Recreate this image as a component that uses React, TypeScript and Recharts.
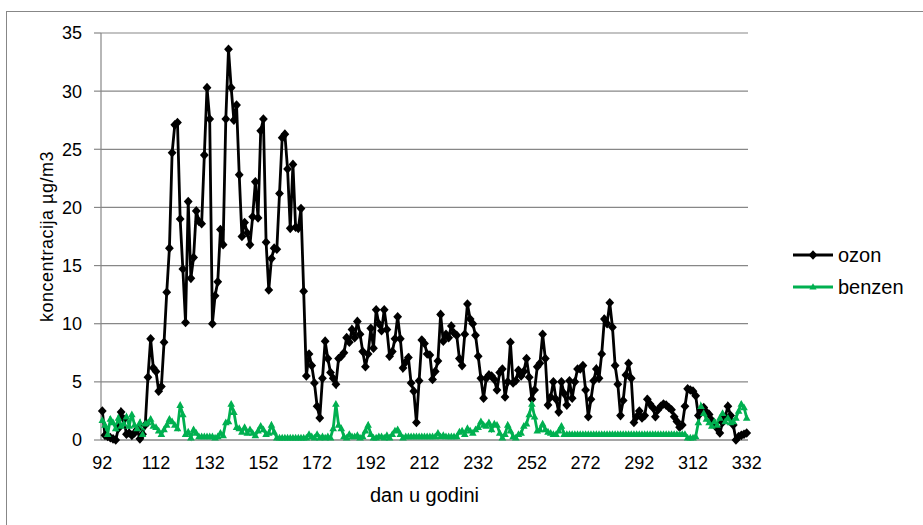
import React from 'react';
import { LineChart, Line, XAxis, YAxis, CartesianGrid, Label } from 'recharts';

const startDay = 92;
const xTicks = [92, 112, 132, 152, 172, 192, 212, 232, 252, 272, 292, 312, 332];
const yTicks = [0, 5, 10, 15, 20, 25, 30, 35];

const ozon = [
  2.5, 0.4, 0.3, 0.2, 0.1, 0.0, 1.0, 2.4, 1.8, 0.5, 0.6, 0.4, 0.6, 0.9, 0.1, 0.5, 1.3,
  5.4, 8.7, 6.2, 5.9, 4.2, 4.6, 8.4, 12.7, 16.5,
  24.7, 27.1, 27.3, 19.0, 14.7, 10.1, 20.5, 13.9, 15.7, 19.7, 18.8, 18.6, 24.5, 30.3, 27.6, 10.0, 12.4, 13.6, 18.1, 16.8,
  27.6, 33.6, 30.3, 27.5, 28.8, 22.8, 17.5, 18.7, 17.8, 16.8, 19.2, 22.2, 19.1, 26.6, 27.6, 17.0, 12.9, 15.6, 16.5, 16.4,
  21.2, 26.0, 26.3, 23.3, 18.2, 23.7, 18.3, 18.2, 19.9, 12.8, 5.5, 7.4, 6.4, 4.9, 2.9, 1.9, 5.3, 8.5, 7.0, 5.8, 5.3,
  4.8, 7.0, 7.2, 7.5, 8.8, 8.4, 9.5, 8.8, 10.2, 9.1,
  7.6, 6.3, 7.4, 9.6, 7.9, 11.2, 10.0, 9.4, 11.2, 9.5,
  7.2, 7.6, 8.7, 10.6, 8.7, 6.2, 6.7, 7.1, 4.9, 4.2,
  1.5, 5.1, 8.6, 8.3, 7.4, 7.3, 5.2, 5.9, 6.8, 10.8,
  8.5, 9.1, 8.8, 9.8, 9.2, 9.0, 7.0, 6.4, 9.1, 11.7,
  10.4, 10.0, 9.0, 7.2, 5.3, 3.6, 5.3, 5.6, 5.5, 5.2,
  4.3, 5.8, 6.1, 3.7, 5.0, 8.4, 4.9, 5.1, 6.0, 5.5,
  5.9, 7.0, 5.4, 3.5, 4.3, 6.3, 6.6, 9.1, 7.0, 3.0,
  3.7, 5.0, 3.5, 2.4, 5.0, 4.0, 3.0, 5.1, 3.6, 5.0,
  6.1, 6.1, 6.4, 4.3, 2.0, 3.5, 5.1, 6.1, 5.3, 7.4,
  10.4, 10.0, 11.8, 9.7, 6.4, 4.8, 2.1, 3.4, 5.6, 6.6,
  5.3, 1.5, 2.0, 2.5, 1.9, 2.1, 3.5, 3.1, 2.8, 2.0,
  2.6, 2.9, 3.1, 3.0, 2.8, 2.6, 2.0, 1.6, 1.1, 1.3,
  2.9, 4.4, 4.3, 4.2, 3.8, 2.1, 2.6, 2.8, 2.4, 2.2,
  1.7, 1.3, 1.0, 0.6, 1.5, 2.0, 2.9, 2.1, 1.3, 0.0,
  0.3, 0.4, 0.5, 0.6,
];

const benzen = [
  1.7, 1.3, 0.5, 1.8, 1.5, 1.0, 1.9, 1.2, 1.4, 2.0, 1.2, 2.2, 1.3, 1.0, 1.5, 0.5, 1.4,
  1.5, 1.8, 1.2, 1.1, 0.8, 0.5, 0.9, 1.3, 1.8,
  1.6, 1.3, 1.0, 3.0, 2.2, 0.5, 0.7, 0.2, 0.9, 0.6, 0.3, 0.3, 0.3, 0.3, 0.3, 0.3, 0.2, 0.3, 0.6, 0.4,
  1.5, 1.6, 3.1, 2.4, 1.1, 1.0, 0.7, 1.1, 0.6, 0.9, 0.6, 0.4, 0.8, 1.2, 0.9, 0.5, 0.6, 1.3, 0.7,
  0.2, 0.2, 0.2, 0.2, 0.2, 0.2, 0.2, 0.2, 0.2, 0.2, 0.2, 0.2,
  0.5, 0.3, 0.2, 0.5, 0.2, 0.3, 0.2, 0.3, 0.2, 1.0,
  3.1, 1.3, 1.0, 0.3, 0.2, 0.5, 0.3, 0.3, 0.4, 0.2,
  0.3, 0.8, 1.3, 0.5, 0.2, 0.2, 0.3, 0.3, 0.2, 0.4,
  0.2, 0.5, 0.8, 0.9, 0.5, 0.2, 0.3, 0.3, 0.3, 0.3,
  0.3, 0.3, 0.3, 0.3, 0.3, 0.3, 0.3, 0.3, 0.6, 0.3,
  0.4, 0.3, 0.3, 0.3, 0.3, 0.3, 0.7, 0.8, 0.5, 1.0,
  0.8, 0.6, 0.9, 1.1, 1.6, 1.3, 1.2, 1.5, 0.9, 1.4,
  1.3, 0.6, 0.2, 0.5, 1.3, 0.8, 0.3, 0.2, 0.5, 0.6,
  1.2, 1.4, 2.2, 3.1, 2.0, 0.8, 0.9, 1.4, 0.9, 0.7,
  0.6, 0.5, 0.5, 0.8, 1.2, 0.5,
  0.5, 0.5, 0.5, 0.5, 0.5, 0.5, 0.5, 0.5, 0.5, 0.5,
  0.5, 0.5, 0.5, 0.5, 0.5, 0.5, 0.5, 0.5, 0.5, 0.5,
  0.5, 0.5, 0.5, 0.5, 0.5, 0.5, 0.5, 0.5, 0.5, 0.5,
  0.5, 0.5, 0.5, 0.5, 0.5, 0.5, 0.5, 0.5, 0.5, 0.5,
  0.5, 0.5, 0.5, 0.5, 0.5,
  0.2, 0.2, 0.2, 0.3, 1.5, 2.9, 2.3, 1.8, 1.5, 1.2, 1.6, 1.3, 1.9, 2.3, 1.6, 1.9, 1.5, 1.6, 1.9, 2.5, 3.1, 2.8, 1.9,
];

const data = ozon.map((o, i) => ({ day: startDay + i, ozon: o, benzen: benzen[i] }));

const FONT = '"Liberation Sans", Arial, sans-serif';
const GRID = '#878787';
const GREEN = '#00b050';

const Diamond = (props: any) => {
  const { cx, cy } = props;
  if (cx == null || cy == null) return <g />;
  return (
    <polygon
      points={`${cx},${cy - 4.8} ${cx + 4.4},${cy} ${cx},${cy + 4.8} ${cx - 4.4},${cy}`}
      fill="#000"
    />
  );
};

const Triangle = (props: any) => {
  const { cx, cy } = props;
  if (cx == null || cy == null) return <g />;
  return (
    <polygon
      points={`${cx},${cy - 4} ${cx + 3.8},${cy + 2.8} ${cx - 3.8},${cy + 2.8}`}
      fill={GREEN}
    />
  );
};

const LegendBox = () => (
  <div
    style={{
      position: 'absolute',
      left: 793,
      top: 239,
      fontFamily: FONT,
      fontSize: 20,
      color: '#000',
      lineHeight: '32px',
    }}
  >
    <div style={{ display: 'flex', alignItems: 'center', height: 32 }}>
      <svg width={40} height={12} style={{ marginRight: 5 }}>
        <line x1={0} y1={6} x2={40} y2={6} stroke="#000" strokeWidth={2.8} />
        <polygon points="20,1.2 24.4,6 20,10.8 15.6,6" fill="#000" />
      </svg>
      <span>ozon</span>
    </div>
    <div style={{ display: 'flex', alignItems: 'center', height: 32 }}>
      <svg width={40} height={12} style={{ marginRight: 5 }}>
        <line x1={0} y1={6} x2={40} y2={6} stroke={GREEN} strokeWidth={2.8} />
        <polygon points="20,2.2 23.6,8.6 16.4,8.6" fill={GREEN} />
      </svg>
      <span>benzen</span>
    </div>
  </div>
);

export default function App() {
  return (
    <div style={{ position: 'absolute', left: 0, top: 0, width: 923, height: 525, background: '#fff', overflow: 'hidden' }}>
      <div
        style={{
          position: 'absolute',
          left: 6,
          top: 11,
          width: 930,
          height: 530,
          borderTop: `1.5px solid ${GRID}`,
          borderLeft: `1.5px solid ${GRID}`,
        }}
      />
      <div style={{ position: 'absolute', left: 0, top: 0 }}>
        <LineChart
          width={923}
          height={525}
          data={data}
          margin={{ top: 33, right: 175, bottom: 0, left: 0 }}
        >
          <CartesianGrid vertical={false} stroke={GRID} strokeWidth={1.2} />
          <XAxis
            dataKey="day"
            type="number"
            domain={[92, 332]}
            ticks={xTicks}
            interval={0}
            padding={{ left: 1.3, right: 1.3 }}
            height={85}
            axisLine={{ stroke: GRID, strokeWidth: 1.2 }}
            tickLine={false}
            tickSize={6}
            tickMargin={10}
            tick={{ fill: '#000', fontSize: 18, fontFamily: FONT }}
          >
            <Label
              content={(p: any) => {
                const vb = p.viewBox;
                return (
                  <text
                    x={vb.x + vb.width / 2}
                    y={vb.y + 55}
                    textAnchor="middle"
                    dominantBaseline="central"
                    fontSize={20}
                    fontFamily={FONT}
                    fill="#000"
                  >
                    dan u godini
                  </text>
                );
              }}
            />
          </XAxis>
          <YAxis
            type="number"
            domain={[0, 35]}
            ticks={yTicks}
            interval={0}
            width={101}
            axisLine={{ stroke: GRID, strokeWidth: 1.2 }}
            tickLine={{ stroke: GRID, strokeWidth: 1.2 }}
            tickSize={7}
            tickMargin={12}
            tick={{ fill: '#000', fontSize: 18, fontFamily: FONT }}
          >
            <Label
              content={(p: any) => {
                const vb = p.viewBox;
                const cx = 47;
                const cy = vb.y + vb.height / 2;
                return (
                  <text
                    x={cx}
                    y={cy}
                    transform={`rotate(-90 ${cx} ${cy})`}
                    textAnchor="middle"
                    dominantBaseline="central"
                    fontSize={18}
                    letterSpacing={0.5}
                    fontFamily={FONT}
                    fill="#000"
                  >
                    koncentracija µg/m3
                  </text>
                );
              }}
            />
          </YAxis>
          <Line
            type="linear"
            dataKey="ozon"
            name="ozon"
            stroke="#000"
            strokeWidth={2.8}
            dot={(p: any) => <Diamond key={`o-${p.index}`} {...p} />}
            activeDot={false}
            isAnimationActive={false}
          />
          <Line
            type="linear"
            dataKey="benzen"
            name="benzen"
            stroke={GREEN}
            strokeWidth={2.8}
            dot={(p: any) => <Triangle key={`b-${p.index}`} {...p} />}
            activeDot={false}
            isAnimationActive={false}
          />
        </LineChart>
      </div>
      <LegendBox />
    </div>
  );
}
